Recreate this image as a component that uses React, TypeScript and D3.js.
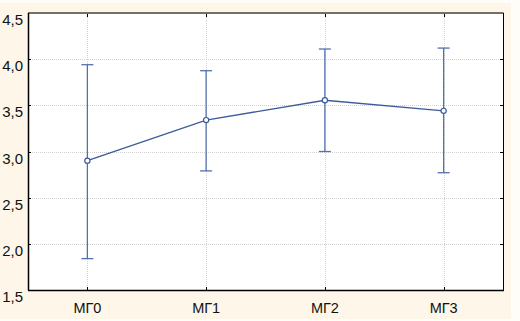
import { useEffect, useRef } from "react";
import * as d3 from "d3";

const categories = ["МГ0", "МГ1", "МГ2", "МГ3"];
const means = [2.9, 3.34, 3.555, 3.44];
const upper = [3.94, 3.875, 4.11, 4.12];
const lower = [1.84, 2.79, 3.0, 2.77];
const yTicks = [1.5, 2.0, 2.5, 3.0, 3.5, 4.0, 4.5];

const W = 520;
const H = 321;
const margin = { top: 13, right: 17, bottom: 31, left: 28 };
const font = "'Liberation Sans Narrow', 'Arial Narrow', 'Liberation Sans', sans-serif";

const App = () => {
  const svgRef = useRef<SVGSVGElement | null>(null);

  useEffect(() => {
    const svg = d3.select(svgRef.current);
    svg.selectAll("*").remove();

    const x0 = margin.left;
    const x1 = W - margin.right;
    const y0 = H - margin.bottom;
    const y1 = margin.top;

    const x = d3.scalePoint<string>().domain(categories).range([x0, x1]).padding(0.5);
    const y = d3.scaleLinear().domain([1.5, 4.5]).range([y0, y1]);

    svg.append("rect").attr("x", 0).attr("y", 0).attr("width", W).attr("height", H).attr("fill", "#fffdf8");
    svg.append("rect").attr("x", 0).attr("y", 3).attr("width", 511).attr("height", 316).attr("fill", "#fdf6e9");
    svg.append("rect").attr("x", x0).attr("y", y1).attr("width", x1 - x0).attr("height", y0 - y1).attr("fill", "#ffffff");

    // grid
    const grid = svg.append("g").attr("stroke", "#d2d2d2").attr("stroke-width", 1).attr("stroke-dasharray", "1,1");
    yTicks.slice(1, -1).forEach((t) => {
      grid.append("line").attr("x1", x0).attr("x2", x1).attr("y1", Math.round(y(t)) + 0.5).attr("y2", Math.round(y(t)) + 0.5);
    });
    categories.forEach((c) => {
      const px = Math.round(x(c)!) + 0.5;
      grid.append("line").attr("x1", px).attr("x2", px).attr("y1", y1).attr("y2", y0);
    });

    // inner ticks
    const tk = svg.append("g").attr("stroke", "#000").attr("stroke-width", 1);
    categories.forEach((c) => {
      const px = Math.round(x(c)!) + 0.5;
      tk.append("line").attr("x1", px).attr("x2", px).attr("y1", y1).attr("y2", y1 + 4);
      tk.append("line").attr("x1", px).attr("x2", px).attr("y1", y0).attr("y2", y0 - 3);
    });
    yTicks.forEach((t) => {
      const py = Math.round(y(t)) + 0.5;
      tk.append("line").attr("x1", x1).attr("x2", x1 - 3).attr("y1", py).attr("y2", py);
      tk.append("line").attr("x1", x0).attr("x2", x0 + 3).attr("y1", py).attr("y2", py);
    });

    // frame
    svg.append("line").attr("x1", x0).attr("x2", x1 + 0.5).attr("y1", y1).attr("y2", y1).attr("stroke", "#767062").attr("stroke-width", 2);
    svg.append("line").attr("x1", x1 + 0.5).attr("x2", x1 + 0.5).attr("y1", y1).attr("y2", y0).attr("stroke", "#000").attr("stroke-width", 1);
    svg.append("line").attr("x1", x0 + 0.5).attr("x2", x0 + 0.5).attr("y1", y1).attr("y2", y0).attr("stroke", "#000").attr("stroke-width", 1.5);
    svg.append("line").attr("x1", x0).attr("x2", x1 + 1).attr("y1", y0 + 0.5).attr("y2", y0 + 0.5).attr("stroke", "#000").attr("stroke-width", 1.5);

    // error bars
    const eb = svg.append("g").attr("stroke", "#5271ad").attr("stroke-width", 1.3);
    categories.forEach((c, i) => {
      const px = x(c)!;
      eb.append("line").attr("x1", px).attr("x2", px).attr("y1", y(upper[i])).attr("y2", y(lower[i]));
      eb.append("line").attr("x1", px - 6).attr("x2", px + 6).attr("y1", y(upper[i])).attr("y2", y(upper[i]));
      eb.append("line").attr("x1", px - 6).attr("x2", px + 6).attr("y1", y(lower[i])).attr("y2", y(lower[i]));
    });

    // mean line
    const line = d3
      .line<number>()
      .x((d, i) => x(categories[i])!)
      .y((d) => y(d));
    svg.append("path").datum(means).attr("d", line).attr("fill", "none").attr("stroke", "#3d5a9a").attr("stroke-width", 1.3);

    svg
      .selectAll(".pt")
      .data(means)
      .enter()
      .append("circle")
      .attr("class", "pt")
      .attr("cx", (d, i) => x(categories[i])!)
      .attr("cy", (d) => y(d))
      .attr("r", 2.6)
      .attr("fill", "#fff")
      .attr("stroke", "#3d5a9a")
      .attr("stroke-width", 1.2);

    // labels
    svg
      .append("g")
      .selectAll("text")
      .data(yTicks)
      .enter()
      .append("text")
      .attr("x", 23)
      .attr("y", (d) => y(d) + 12)
      .attr("text-anchor", "end")
      .attr("font-family", font)
      .attr("font-size", 15)
      .attr("fill", "#111")
      .text((d) => d3.format(".1f")(d).replace(".", ","));

    svg
      .append("g")
      .selectAll("text")
      .data(categories)
      .enter()
      .append("text")
      .attr("x", (d) => x(d)!)
      .attr("y", y0 + 23)
      .attr("text-anchor", "middle")
      .attr("font-family", font)
      .attr("font-size", 14.5)
      .attr("fill", "#111")
      .text((d) => d);
  }, []);

  return (
    <div style={{ position: "absolute", left: 0, top: 0 }}>
      <svg ref={svgRef} width={W} height={H} style={{ display: "block" }}></svg>
    </div>
  );
};

export default App;
